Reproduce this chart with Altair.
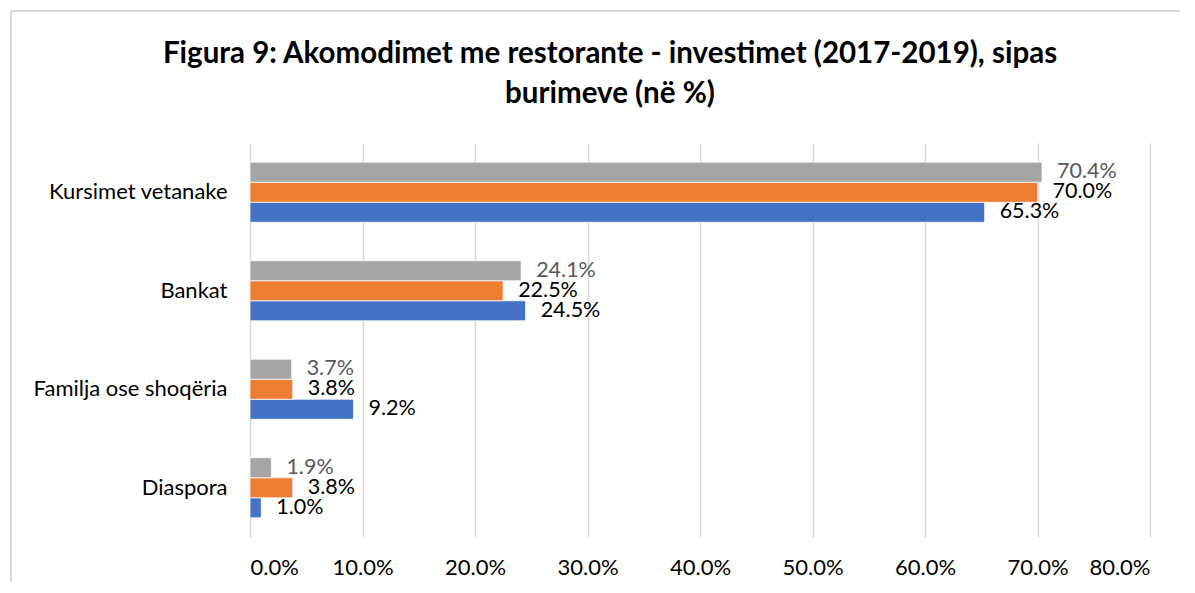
import altair as alt
import pandas as pd

categories = ["Kursimet vetanake", "Bankat", "Familja ose shoqëria", "Diaspora"]
years = ["2017", "2018", "2019"]
v2017 = [65.3, 24.5, 9.2, 1.0]
v2018 = [70.0, 22.5, 3.8, 3.8]
v2019 = [70.4, 24.1, 3.7, 1.9]
colors = ["#4472C4", "#ED7D31", "#A5A5A5"]
x_ticks = [0, 10, 20, 30, 40, 50, 60, 70, 80]
title_lines = ["Figura 9: Akomodimet me restorante - investimet (2017-2019), sipas",
               "burimeve (në %)"]

rows = []
for yr, vals in zip(years, [v2017, v2018, v2019]):
    for c, v in zip(categories, vals):
        rows.append({"cat": c, "year": yr, "value": v})
df = pd.DataFrame(rows)

FONT = "Lato"

y = alt.Y("cat:N", sort=categories,
          scale=alt.Scale(paddingInner=0.39, paddingOuter=0.195),
          axis=alt.Axis(title=None, domain=False, ticks=False, labelPadding=23,
                        labelFontSize=22, labelColor="black", labelFont=FONT,
                        labelLimit=400, grid=False))
yoff = alt.YOffset("year:N", sort=["2019", "2018", "2017"],
                   scale=alt.Scale(paddingInner=0, paddingOuter=0))
x = alt.X("value:Q", scale=alt.Scale(domain=[0, 80], nice=False),
          axis=alt.Axis(values=x_ticks, title=None,
                        labelExpr="format(datum.value, '.1f') + '%'",
                        domain=False, ticks=False, grid=True, gridColor="#d9d9d9",
                        gridWidth=1.5, labelPadding=20, labelFontSize=22,
                        labelFont=FONT, labelColor="black"))

bars = alt.Chart(df).mark_bar(stroke="white", strokeWidth=0.75).encode(
    y=y, yOffset=yoff, x=x,
    color=alt.Color("year:N", scale=alt.Scale(domain=years, range=colors), legend=None),
)

labels = alt.Chart(df).transform_calculate(
    lbl="format(datum.value, '.1f') + '%'"
).mark_text(align="left", baseline="middle", dx=15, font=FONT, fontSize=21.5).encode(
    y=y, yOffset=yoff, x=x,
    text="lbl:N",
    color=alt.condition("datum.year == '2019'", alt.value("#595959"), alt.value("black")),
)

dummy = pd.DataFrame({"a": [0]})
border_left = alt.Chart(dummy).mark_rule(color="#d9d9d9", strokeWidth=2).encode(
    x=alt.value(-239), y=alt.value(-132), y2=alt.value(460))
border_top = alt.Chart(dummy).mark_rule(color="#d9d9d9", strokeWidth=2).encode(
    x=alt.value(-239), x2=alt.value(960), y=alt.value(-132))

title1 = alt.Chart(dummy).mark_text(
    text=title_lines[0], font=FONT, fontSize=29.5, fontWeight="bold", color="black",
    align="center", baseline="alphabetic").encode(x=alt.value(360), y=alt.value(-80))
title2 = alt.Chart(dummy).mark_text(
    text=title_lines[1], font=FONT, fontSize=29.5, fontWeight="bold", color="black",
    align="center", baseline="alphabetic").encode(x=alt.value(360), y=alt.value(-40))

chart = alt.layer(border_left, border_top, bars, labels, title1, title2).properties(
    width=900, height=394,
    autosize=alt.AutoSizeParams(type="none"),
    padding={"left": 242, "top": 135, "right": 30, "bottom": 45},
    background="white",
).configure_view(stroke=None)

chart.save("out.html", embed_options={"renderer": "svg", "actions": False})
